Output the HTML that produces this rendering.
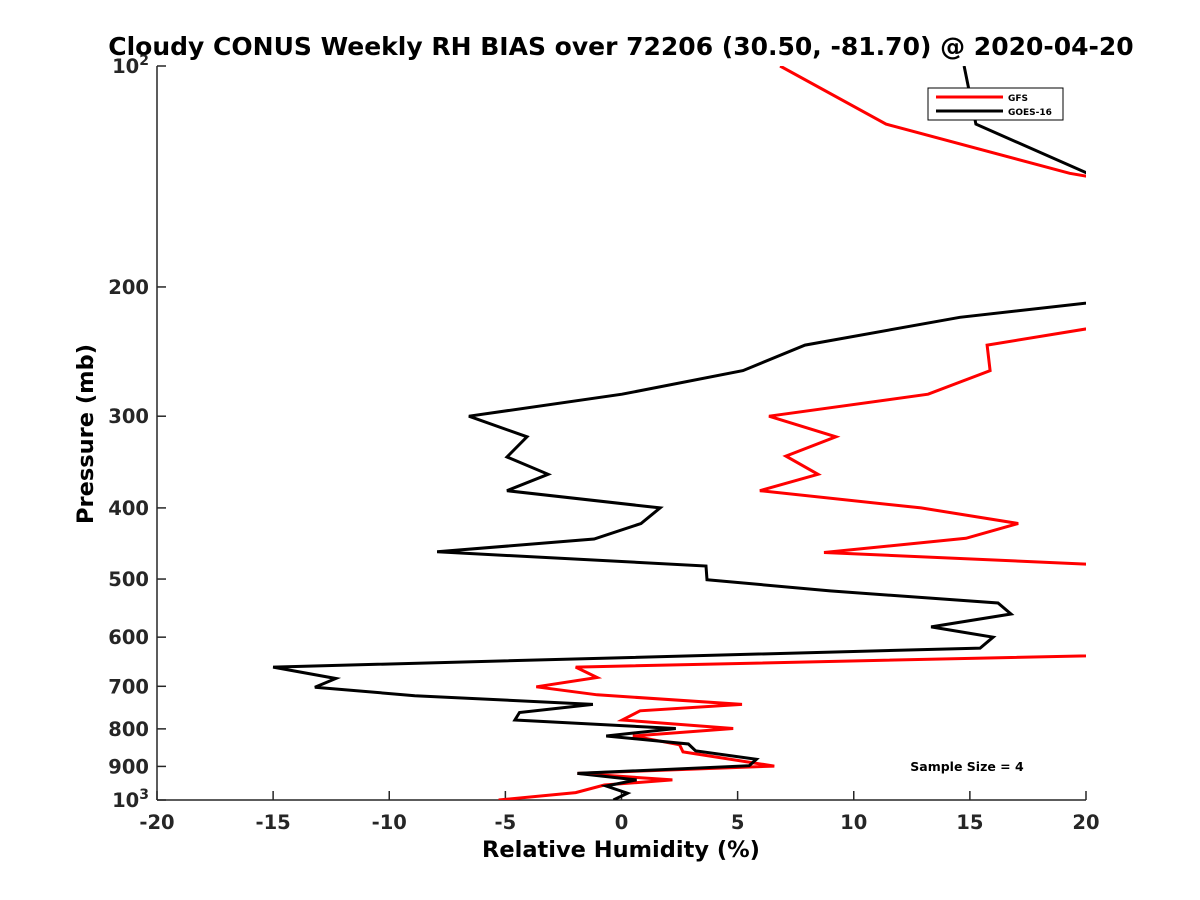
<!DOCTYPE html>
<html><head><meta charset="utf-8"><style>
body{margin:0;background:#fff;}
svg{display:block;font-family:"DejaVu Sans","Liberation Sans",sans-serif;font-weight:bold;}
</style></head><body>
<svg id="chart" width="1200" height="900">
<defs><clipPath id="clip"><rect x="157" y="66" width="929" height="734"/></clipPath></defs>
<rect width="1200" height="900" fill="#fff"/>
<text x="621" y="55" font-size="25" text-anchor="middle">Cloudy CONUS Weekly RH BIAS over 72206 (30.50, -81.70) @ 2020-04-20</text>
<g id="axes"></g>
<g id="series" clip-path="url(#clip)"></g>
<text x="621" y="857" font-size="22.5" text-anchor="middle">Relative Humidity (%)</text>
<text transform="translate(93,434) rotate(-90)" font-size="22.5" text-anchor="middle">Pressure (mb)</text>
<g>
<rect x="928" y="88" width="135" height="32" fill="#fff" stroke="#000" stroke-width="1"/>
<line x1="936" y1="97" x2="1003" y2="97" stroke="#f00" stroke-width="3"/>
<text x="1008" y="101" font-size="9">GFS</text>
<line x1="936" y1="111" x2="1003" y2="111" stroke="#000" stroke-width="3"/>
<text x="1008" y="115" font-size="9">GOES-16</text>
</g>
<text x="967" y="771" font-size="12.5" text-anchor="middle">Sample Size = 4</text>
</svg>
<script>
const xTicks=[-20,-15,-10,-5,0,5,10,15,20];
const yTicks=[100,200,300,400,500,600,700,800,900,1000];
const yTickLabels=["10|2","200","300","400","500","600","700","800","900","10|3"];
const goesP=[100,120,149,175,207,220,240,260,280,300,320,341,360,379,400,420,441,459,480,501,519,539,558,581,600,621,659,683,702,721,741,760,778,799,818,839,857,880,898,920,939,957,979,1000];
const goesRH=[14.75,15.26,22,30,22,14.57,7.9,5.23,0.02,-6.57,-4.07,-4.93,-3.16,-4.93,1.66,0.84,-1.18,-7.94,3.64,3.68,8.98,16.21,16.77,13.33,16.0,15.44,-15.0,-12.3,-13.2,-8.9,-1.23,-4.39,-4.59,2.34,-0.66,2.88,3.19,5.81,5.5,-1.9,0.65,-0.66,0.26,-0.35];
const gfsP=[100,120,140,160,215,240,260,280,300,320,340,360,379,400,420,440,460,478,500,600,627,659,681,701,719,741,756,778,799,818,841,860,899,920,939,954,977,1000];
const gfsRH=[6.83,11.39,19.3,30,25,15.74,15.87,13.2,6.35,9.23,7.08,8.46,5.96,12.9,17.08,14.83,8.72,20.6,25,25,29,-1.97,-1.05,-3.67,-1.05,5.19,0.8,0.03,4.81,0.49,2.5,2.65,6.58,-1.9,2.19,-0.74,-1.97,-5.29];
const X0=157,X1=1086,Y0=66,Y1=800;
function xs(v){return X0+(v+20)/40*(X1-X0);}
function ys(p){return Y0+(Math.log10(p)-2)*(Y1-Y0);}
const NS="http://www.w3.org/2000/svg";
const axes=document.getElementById('axes');
function mk(tag,attrs,parent){const e=document.createElementNS(NS,tag);for(const k in attrs)e.setAttribute(k,attrs[k]);parent.appendChild(e);return e;}
let a=mk('line',{x1:X0,y1:Y1,x2:X1,y2:Y1,stroke:'#262626','stroke-width':1.5},axes);


a=mk('line',{x1:X0,y1:Y0,x2:X0,y2:Y1,stroke:'#262626','stroke-width':1.5},axes);


xTicks.forEach(v=>{
  const t=mk('line',{x1:xs(v),y1:Y1,x2:xs(v),y2:Y1-9,stroke:'#262626','stroke-width':1.5},axes);
  
  
  const l=mk('text',{x:xs(v),y:829,'font-size':19.5,'text-anchor':'middle',fill:'#262626'},axes);
  l.textContent=String(v);
  
  
});
yTicks.forEach((p,i)=>{
  const t=mk('line',{x1:X0,y1:ys(p),x2:X0+9,y2:ys(p),stroke:'#262626','stroke-width':1.5},axes);
  
  
  const lab=yTickLabels[i];
  const l=mk('text',{x:149,y:ys(p)+7,'font-size':19.5,'text-anchor':'end',fill:'#262626'},axes);
  if(lab.indexOf('|')>=0){
    const parts=lab.split('|');
    const t1=mk('tspan',{},l);t1.textContent=parts[0];
    const t2=mk('tspan',{dy:-8,'font-size':14},l);t2.textContent=parts[1];
  } else l.textContent=lab;
  
  
});
const ser=document.getElementById('series');
function line(P,R,color,name){
  const pts=P.map((p,i)=>xs(R[i]).toFixed(1)+','+ys(p).toFixed(1)).join(' ');
  const e=mk('polyline',{points:pts,fill:'none',stroke:color,'stroke-width':3,'stroke-linejoin':'miter'},ser);
  
  
}
line(gfsP,gfsRH,'#ff0000','gfs-line');
line(goesP,goesRH,'#000000','goes16-line');
</script>
</body></html>
